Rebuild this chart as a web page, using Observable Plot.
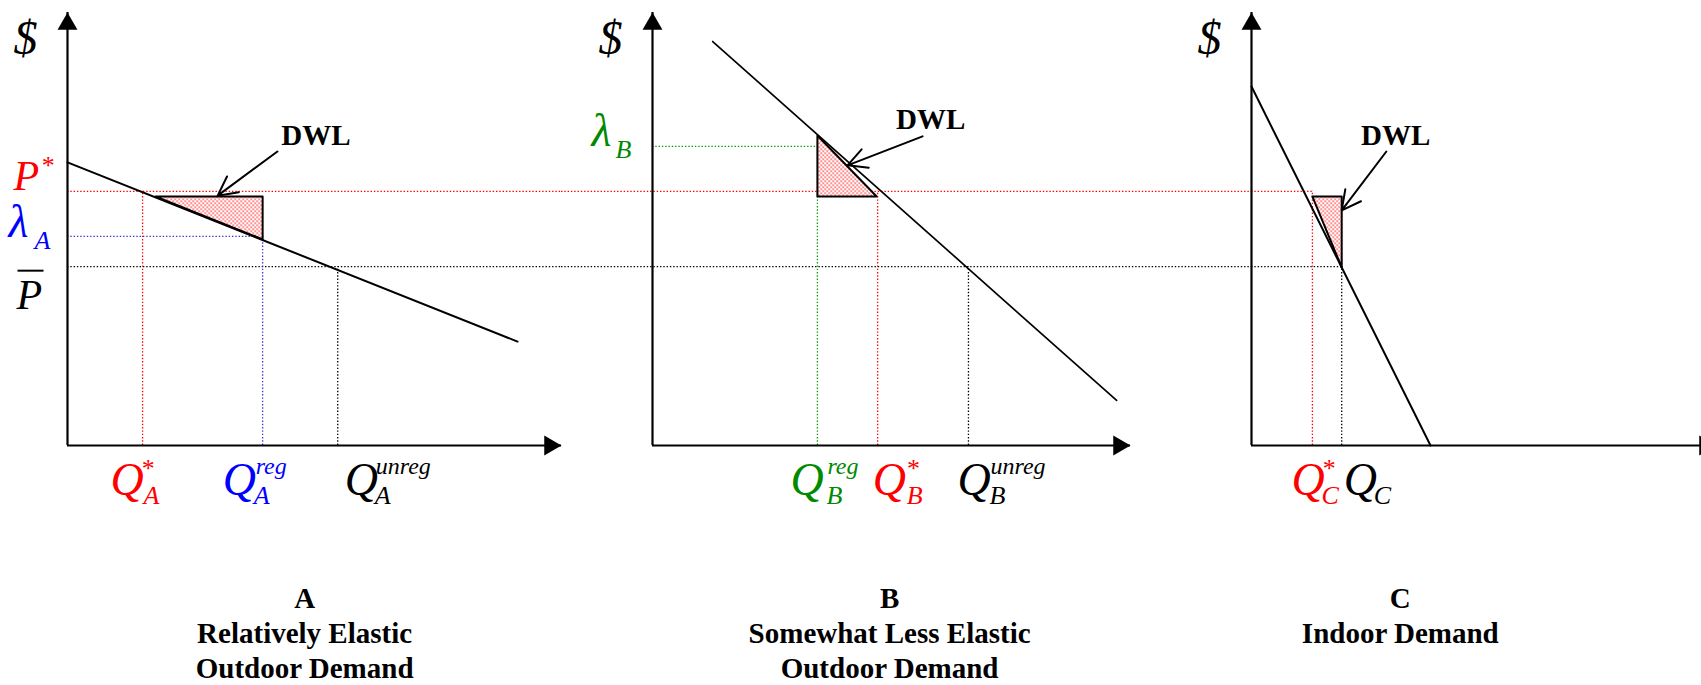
<!DOCTYPE html>
<html>
<head>
<meta charset="utf-8">
<script src="https://cdn.jsdelivr.net/npm/d3@7"></script>
<script src="https://cdn.jsdelivr.net/npm/@observablehq/plot@0.6"></script>
<style>
  html, body { margin: 0; padding: 0; background: #fff; overflow: hidden; }
  #fig { position: relative; width: 1701px; height: 685px; }
</style>
</head>
<body>
<svg width="0" height="0" style="position:absolute">
  <defs>
    <pattern id="dwlDots" width="4" height="4" patternUnits="userSpaceOnUse">
      <rect width="4" height="4" fill="#ffffff"/>
      <rect x="0" y="0" width="1.3" height="1.3" fill="#ff0000"/>
      <rect x="2" y="2" width="1.3" height="1.3" fill="#ff0000"/>
    </pattern>
  </defs>
</svg>
<div id="fig"></div>
<script>
// ---------------- DATA (price axis 0–100, each quantity axis 0–100) ----------------
const panelNames = ["A", "B", "C"];
const captions = [
  "A\nRelatively Elastic\nOutdoor Demand",
  "B\nSomewhat Less Elastic\nOutdoor Demand",
  "C\nIndoor Demand"
];
const captionQ = [48.0, 49.6, 32.0];

const pStar = 58.7;          // P*
const pBar = 41.3;           // P-bar
const lambdaA = 48.3;        // λ_A
const lambdaB = 69.1;        // λ_B

const quantitiesA = [15.2, 39.5, 54.7];   // Q*_A, Q^reg_A, Q^unreg_A
const quantitiesB = [34.5, 47.1, 66.1];   // Q^reg_B, Q*_B, Q^unreg_B
const quantitiesC = [13.1, 19.4];         // Q*_C, Q_C

const qLabelsA = [["Q", "A", "*"], ["Q", "A", "reg"], ["Q", "A", "unreg"]];
const qLabelsB = [["Q", "B", "reg"], ["Q", "B", "*"], ["Q", "B", "unreg"]];
const qLabelsC = [["Q", "C", "*"], ["Q", "C", ""]];

const demandA = [{q: 0, p: 65.4}, {q: 91.1, p: 24.0}];
const demandB = [{q: 12.6, p: 93.3}, {q: 97.1, p: 10.4}];
const demandC = [{q: 0, p: 82.9}, {q: 38.5, p: 0}];

const dwlA = [{q: 17.8, p: 57.5}, {q: 39.5, p: 57.5}, {q: 39.5, p: 47.6}, {q: 17.8, p: 57.5}];
const dwlB = [{q: 34.5, p: 71.6}, {q: 34.5, p: 57.5}, {q: 46.9, p: 57.5}, {q: 34.5, p: 71.6}];
const dwlC = [{q: 13.1, p: 57.5}, {q: 19.4, p: 57.5}, {q: 19.4, p: 41.1}, {q: 13.1, p: 57.5}];

const dwlArrows = [
  {panel: "A", q1: 42.5, p1: 67.9, q2: 30.4, p2: 57.7},
  {panel: "B", q1: 56.5, p1: 71.4, q2: 40.8, p2: 64.7},
  {panel: "C", q1: 29.0, p1: 67.9, q2: 19.4, p2: 54.3}
];
const dwlLabels = [
  {panel: "A", q: 50.3, p: 69.5},
  {panel: "B", q: 58.2, p: 73.0},
  {panel: "C", q: 31.0, p: 69.5}
];

// ---------------- STYLE / LAYOUT ----------------
const W = 1701, H = 685;
const FONT = '"Liberation Serif", "Times New Roman", serif';
const RED = "#ff0000", BLUE = "#0000ff", BLUE_DOT = "#3a3acc", GREEN = "#008a00", GREEN_DOT = "#00a000";
const layout = {
  A: {frame: [67, 561], axis: [67, 561]},
  B: {frame: [561, 1251], axis: [652, 1130]},
  C: {frame: [1251, 1701], axis: [1251, 1716]}
};
const dotted = (color) => ({stroke: color, strokeWidth: 1.3, strokeDasharray: "1.4 1.9"});
// a short horizontal bar used as the overline of P-bar
const overbar = {draw(context) { context.moveTo(-13, 0); context.lineTo(13, 0); }};

function txt(str, x, y, o) {
  return Plot.text([str], {x, y, text: (d) => d, fontFamily: FONT, lineAnchor: "bottom", ...o});
}
// label made of a main glyph, a subscript and a superscript
function rich(x, y, [main, sub, sup], color, o) {
  const marks = [txt(main, x, y, {fill: color, fontSize: 46, fontStyle: "italic", textAnchor: "start", dx: o.dx, dy: o.dy})];
  if (sub) marks.push(txt(sub, x, y, {fill: color, fontSize: 26, fontStyle: "italic", textAnchor: "start", dx: o.subDx, dy: o.subDy}));
  if (sup) marks.push(txt(sup, x, y, {fill: color, fontSize: sup === "*" ? 26 : 24, fontStyle: "italic", textAnchor: "start", dx: o.supDx, dy: sup === "*" ? o.starDy : o.supDy}));
  return marks;
}
const qPos = {dy: 49, subDy: 58, supDy: 28, starDy: 31};

function axes() {
  return [
    Plot.ruleX([0], {y1: 0, y2: 100, stroke: "black", strokeWidth: 2.2}),
    Plot.ruleY([0], {x1: 0, x2: 100, stroke: "black", strokeWidth: 2.2}),
    Plot.dot([0], {x: 0, y: 100, symbol: "triangle", r: 7.4, fill: "black", stroke: "none", dy: 11.5}),
    Plot.dot([0], {x: 100, y: 0, symbol: "triangle", r: 7.4, rotate: 90, fill: "black", stroke: "none", dx: -11.5}),
    txt("$", 0, 100, {dx: -42, dy: 41, fontSize: 48, fontStyle: "italic", textAnchor: "middle"})
  ];
}
function dwlMarks(name, poly) {
  const a = dwlArrows.filter((d) => d.panel === name);
  const l = dwlLabels.filter((d) => d.panel === name);
  return [
    Plot.line(poly, {x: "q", y: "p", fill: "url(#dwlDots)", stroke: "black", strokeWidth: 2}),
    Plot.arrow(a, {x1: "q1", y1: "p1", x2: "q2", y2: "p2", stroke: "black", strokeWidth: 2, headLength: 16, headAngle: 55}),
    Plot.text(l, {x: "q", y: "p", text: () => "DWL", fontFamily: FONT, fontWeight: "bold", fontSize: 29, lineAnchor: "bottom", textAnchor: "middle"})
  ];
}
function caption(i) {
  return Plot.text([captions[i]], {x: captionQ[i], y: 0, text: (d) => d, dy: 137, fontFamily: FONT, fontWeight: "bold",
    fontSize: 29, lineHeight: 1.22, lineAnchor: "top", textAnchor: "middle", fill: "black"});
}
function panel(name, marks) {
  const L = layout[name];
  return Plot.plot({
    width: W, height: H,
    marginLeft: L.frame[0], marginRight: W - L.frame[1], marginTop: 0, marginBottom: 0,
    x: {domain: [0, 100], range: L.axis, axis: null},
    y: {domain: [0, 100], range: [445, 12], axis: null},
    style: {background: "transparent", position: "absolute", left: "0px", top: "0px"},
    marks
  });
}

// ---------------- PANEL A ----------------
const plotA = panel("A", [
  Plot.ruleY([pStar], dotted(RED)),
  Plot.ruleY([pBar], dotted("black")),
  Plot.ruleY([lambdaA], {x1: 0, x2: quantitiesA[1], ...dotted(BLUE_DOT)}),
  Plot.ruleX([quantitiesA[0]], {y1: 0, y2: pStar, ...dotted(RED)}),
  Plot.ruleX([quantitiesA[1]], {y1: 0, y2: lambdaA, ...dotted(BLUE_DOT)}),
  Plot.ruleX([quantitiesA[2]], {y1: 0, y2: pBar, ...dotted("black")}),
  ...dwlMarks("A", dwlA),
  Plot.line(demandA, {x: "q", y: "p", stroke: "black", strokeWidth: 2}),
  ...axes(),
  // price labels
  txt("P", 0, pStar, {fill: RED, fontSize: 42, fontStyle: "italic", textAnchor: "start", dx: -54, dy: -1}),
  txt("*", 0, pStar, {fill: RED, fontSize: 26, fontStyle: "italic", textAnchor: "start", dx: -27, dy: -17}),
  txt("λ", 0, lambdaA, {fill: BLUE, fontSize: 46, fontStyle: "italic", textAnchor: "start", dx: -59, dy: 1}),
  txt("A", 0, lambdaA, {fill: BLUE, fontSize: 26, fontStyle: "italic", textAnchor: "start", dx: -33, dy: 13}),
  txt("P", 0, pBar, {fill: "black", fontSize: 42, fontStyle: "italic", textAnchor: "start", dx: -51, dy: 42}),
  Plot.dot([pBar], {x: 0, y: (d) => d, symbol: overbar, stroke: "black", strokeWidth: 2, fill: "none", dx: -37, dy: 4}),
  // quantity labels
  ...rich(quantitiesA[0], 0, qLabelsA[0], RED, {...qPos, dx: -32, subDx: 1, supDx: -2}),
  ...rich(quantitiesA[1], 0, qLabelsA[1], BLUE, {...qPos, dx: -40, subDx: -9, supDx: -7}),
  ...rich(quantitiesA[2], 0, qLabelsA[2], "black", {...qPos, dx: 7, subDx: 37, supDx: 38}),
  caption(0)
]);

// ---------------- PANEL B ----------------
const plotB = panel("B", [
  Plot.ruleY([pStar], dotted(RED)),
  Plot.ruleY([pBar], dotted("black")),
  Plot.ruleY([lambdaB], {x1: 0, x2: quantitiesB[0], ...dotted(GREEN_DOT)}),
  Plot.ruleX([quantitiesB[0]], {y1: 0, y2: pStar, ...dotted(GREEN_DOT)}),
  Plot.ruleX([quantitiesB[1]], {y1: 0, y2: pStar, ...dotted(RED)}),
  Plot.ruleX([quantitiesB[2]], {y1: 0, y2: pBar, ...dotted("black")}),
  ...dwlMarks("B", dwlB),
  Plot.line(demandB, {x: "q", y: "p", stroke: "black", strokeWidth: 1.7}),
  ...axes(),
  txt("λ", 0, lambdaB, {fill: GREEN, fontSize: 46, fontStyle: "italic", textAnchor: "start", dx: -61, dy: 0}),
  txt("B", 0, lambdaB, {fill: GREEN, fontSize: 26, fontStyle: "italic", textAnchor: "start", dx: -37, dy: 12}),
  ...rich(quantitiesB[0], 0, qLabelsB[0], GREEN, {...qPos, dx: -27, subDx: 9, supDx: 10}),
  ...rich(quantitiesB[1], 0, qLabelsB[1], RED, {...qPos, dx: -5, subDx: 29, supDx: 28}),
  ...rich(quantitiesB[2], 0, qLabelsB[2], "black", {...qPos, dx: -11, subDx: 21, supDx: 22}),
  caption(1)
]);

// ---------------- PANEL C ----------------
const plotC = panel("C", [
  Plot.ruleY([pStar], {x1: 0, x2: quantitiesC[0], ...dotted(RED)}),
  Plot.ruleY([pBar], {x1: 0, x2: quantitiesC[1], ...dotted("black")}),
  Plot.ruleX([quantitiesC[0]], {y1: 0, y2: pStar, ...dotted(RED)}),
  Plot.ruleX([quantitiesC[1]], {y1: 0, y2: pBar, ...dotted("black")}),
  ...dwlMarks("C", dwlC),
  Plot.line(demandC, {x: "q", y: "p", stroke: "black", strokeWidth: 2}),
  ...axes(),
  ...rich(quantitiesC[0], 0, qLabelsC[0], RED, {...qPos, dx: -21, subDx: 9, supDx: 9}),
  ...rich(quantitiesC[1], 0, qLabelsC[1], "black", {...qPos, dx: 2, subDx: 32, supDx: 32}),
  caption(2)
]);

document.getElementById("fig").append(plotA, plotB, plotC);
void panelNames;
</script>
</body>
</html>
